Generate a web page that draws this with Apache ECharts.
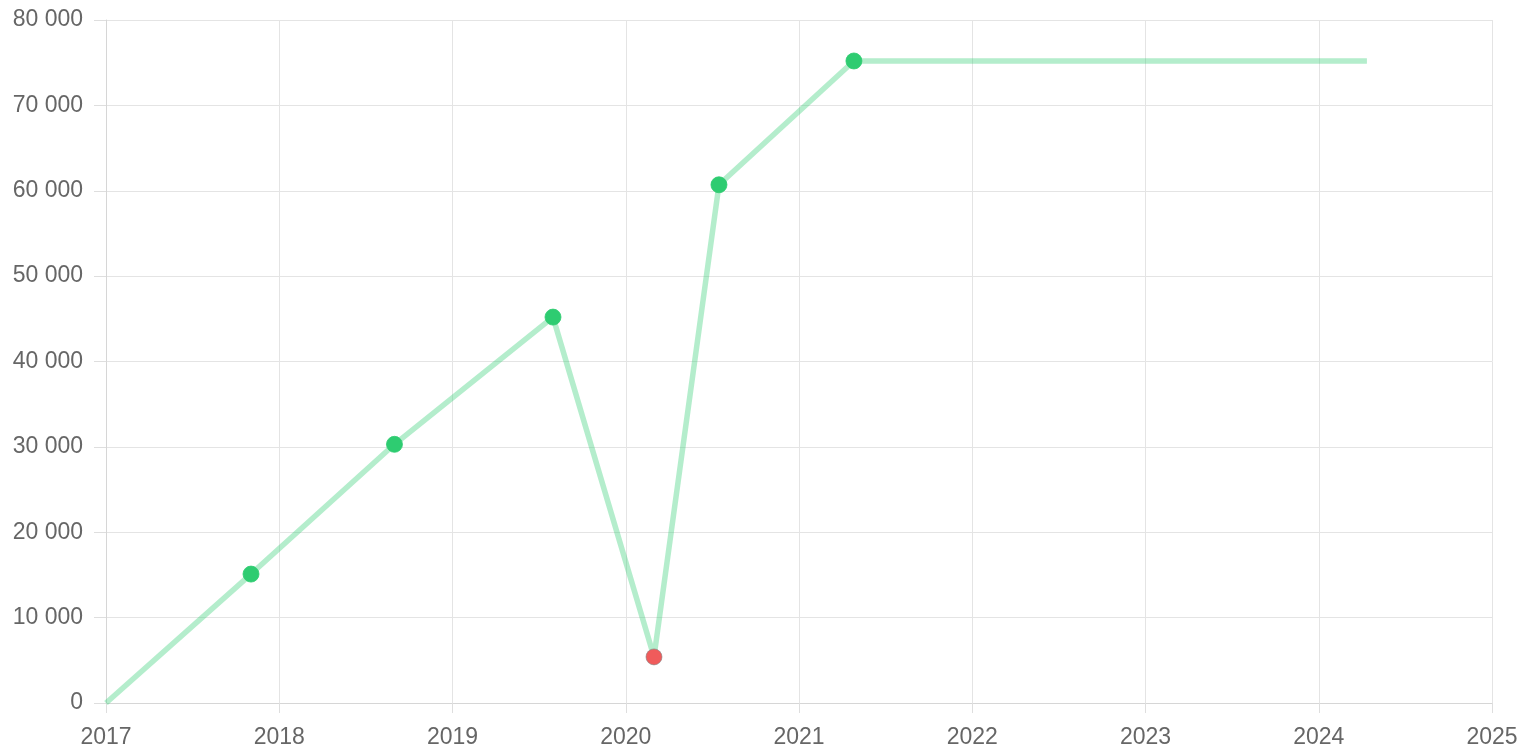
<!DOCTYPE html>
<html>
<head>
<meta charset="utf-8">
<script src="https://cdn.jsdelivr.net/npm/echarts@6/dist/echarts.min.js"></script>
<style>
html,body{margin:0;padding:0;background:#fff;}
#chart{width:1538px;height:753px;}
</style>
</head>
<body>
<div id="chart"></div>
<script>
// Data (x = fractional year, y = value)
const xValues = [2017.0, 2017.837, 2018.665, 2019.58, 2020.163, 2020.538, 2021.317, 2024.278];
const yValues = [0, 15100, 30300, 45200, 5400, 60700, 75200, 75200];
const markerKinds = ['none', 'ok', 'ok', 'ok', 'bad', 'ok', 'ok', 'none'];
const xTicks = [2017, 2018, 2019, 2020, 2021, 2022, 2023, 2024, 2025];
const yTicks = [0, 10000, 20000, 30000, 40000, 50000, 60000, 70000, 80000];

const GREEN = '#2ecc71';
const RED = '#f05b5b';

const data = xValues.map((x, i) => {
  const k = markerKinds[i];
  const item = { value: [x, yValues[i]] };
  if (k === 'none') {
    item.symbol = 'none';
  } else if (k === 'bad') {
    item.itemStyle = { color: RED, borderColor: 'rgba(130,130,130,0.6)', borderWidth: 1 };
  } else {
    item.itemStyle = { color: GREEN, borderColor: 'rgba(46,204,113,0.8)', borderWidth: 1 };
  }
  return item;
});

const fmtThousands = v => String(v).replace(/\B(?=(\d{3})+(?!\d))/g, ' ');

const chart = echarts.init(document.getElementById('chart'), null, { renderer: 'canvas' });
chart.setOption({
  animation: false,
  backgroundColor: '#fff',
  grid: { left: 106, right: 46, top: 20, bottom: 50, containLabel: false },
  xAxis: {
    type: 'value',
    min: xTicks[0],
    max: xTicks[xTicks.length - 1],
    interval: 1,
    axisLine: { show: true, lineStyle: { color: '#d6d6d6', width: 1 } },
    axisTick: { show: true, length: 10, lineStyle: { color: '#dedede', width: 1 } },
    splitLine: { show: true, lineStyle: { color: '#e4e4e4', width: 1 } },
    axisLabel: {
      color: '#666', fontSize: 23, fontFamily: 'Liberation Sans, Arial, sans-serif',
      margin: 23, formatter: v => String(v), showMinLabel: true, showMaxLabel: true
    }
  },
  yAxis: {
    type: 'value',
    min: yTicks[0],
    max: yTicks[yTicks.length - 1],
    interval: 10000,
    axisLine: { show: true, lineStyle: { color: '#d6d6d6', width: 1 } },
    axisTick: { show: true, length: 12, lineStyle: { color: '#dedede', width: 1 } },
    splitLine: { show: true, lineStyle: { color: '#e4e4e4', width: 1 } },
    axisLabel: {
      color: '#666', fontSize: 23, fontFamily: 'Liberation Sans, Arial, sans-serif',
      margin: 23, formatter: v => fmtThousands(v)
    }
  },
  series: [{
    type: 'line',
    data: data,
    symbol: 'circle',
    symbolSize: 16,
    showAllSymbol: true,
    clip: false,
    lineStyle: { color: 'rgba(46,204,113,0.36)', width: 5.5 },
    itemStyle: { color: GREEN },
    z: 3
  }]
});
</script>
</body>
</html>
